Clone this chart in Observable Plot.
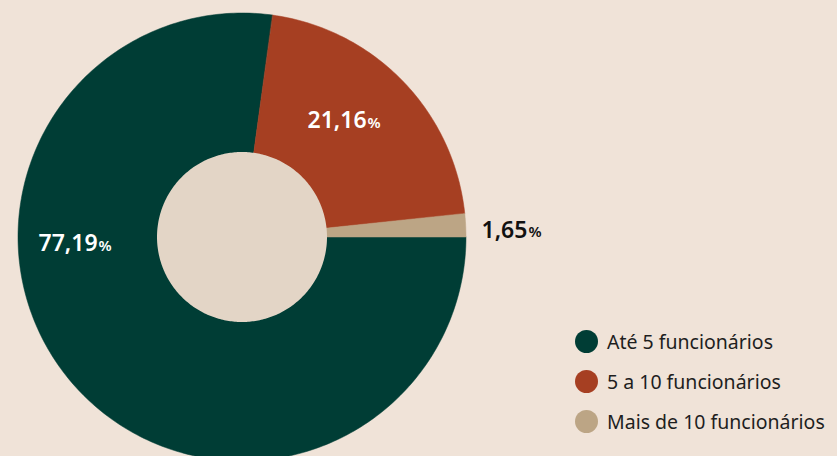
<!DOCTYPE html>
<html>
<head>
<meta charset="utf-8">
<script src="https://cdn.jsdelivr.net/npm/d3@7"></script>
<script src="https://cdn.jsdelivr.net/npm/@observablehq/plot@0.6"></script>
<style>
  html, body { margin: 0; padding: 0; background: #f0e3d8; }
  #wrap { position: relative; width: 837px; height: 456px; overflow: hidden; }
  #legend { position: absolute; left: 575px; top: 321px; font-family: "Noto Sans", sans-serif; font-size: 19.5px; color: #1e1e1e; }
  .item { display: flex; align-items: center; height: 40px; }
  .sw { width: 23px; height: 23px; border-radius: 50%; margin-right: 9px; flex: none; }
</style>
</head>
<body>
<div id="wrap"></div>
<script>
// ---- data ----
const categories = ["Até 5 funcionários", "5 a 10 funcionários", "Mais de 10 funcionários"];
const values = [77.19, 21.16, 1.65];
const valueLabels = ["77,19", "21,16", "1,65"];

// ---- style ----
const colors = ["#003d35", "#a63f22", "#bca585"];
const labelColors = ["#ffffff", "#ffffff", "#111111"];
const holeColor = "#e3d5c6";
const holeRatio = 85 / 224;
// label anchor points (end of number) in unit-circle coordinates
const labelPos = [[-0.647, -0.029], [0.554, 0.520], [1.272, 0.031]];

// build slice polygons (angle from east, clockwise)
const total = d3.sum(values);
const slices = [];
let acc = 0;
values.forEach((v, i) => {
  const a0 = -acc / total * 2 * Math.PI;
  const a1 = -(acc + v) / total * 2 * Math.PI;
  const n = Math.max(4, Math.ceil(Math.abs(a1 - a0) / (2 * Math.PI) * 360));
  for (let k = 0; k <= n; k++) {
    const t = a0 + (a1 - a0) * k / n;
    slices.push({cat: categories[i], xo: Math.cos(t), yo: Math.sin(t), xi: 0, yi: 0});
  }
  acc += v;
});
const hole = d3.range(0, 361).map(k => {
  const t = k / 360 * 2 * Math.PI;
  return {xo: holeRatio * Math.cos(t), yo: holeRatio * Math.sin(t), xi: 0, yi: 0};
});
const labelData = categories.map((c, i) => ({cat: c, label: valueLabels[i], x: labelPos[i][0], y: labelPos[i][1], color: labelColors[i]}));

const plot = Plot.plot({
  width: 837,
  height: 456,
  margin: 0,
  style: {background: "transparent"},
  x: {type: "linear", domain: [-1, 1], range: [18, 466], axis: null},
  y: {type: "linear", domain: [-1, 1], range: [461, 13], axis: null},
  color: {type: "ordinal", domain: categories, range: colors},
  marks: [
    Plot.area(slices, {x1: "xo", y1: "yo", x2: "xi", y2: "yi", z: "cat", fill: "cat", stroke: "cat", strokeWidth: 0.5}),
    Plot.area(hole, {x1: "xo", y1: "yo", x2: "xi", y2: "yi", fill: holeColor}),
    Plot.text(labelData, {x: "x", y: "y", text: "label", fill: "color", textAnchor: "end", fontSize: 23, fontWeight: 600, fontFamily: "Noto Sans"}),
    Plot.text(labelData, {x: "x", y: "y", text: () => "%", fill: "color", textAnchor: "start", dx: 1, dy: 2, fontSize: 15, fontWeight: 600, fontFamily: "Noto Sans"})
  ]
});
const wrap = document.getElementById("wrap");
wrap.appendChild(plot);

const legend = document.createElement("div");
legend.id = "legend";
categories.forEach((c, i) => {
  const item = document.createElement("div");
  item.className = "item";
  const sw = document.createElement("span");
  sw.className = "sw";
  sw.style.background = colors[i];
  const tx = document.createElement("span");
  tx.textContent = c;
  item.appendChild(sw);
  item.appendChild(tx);
  legend.appendChild(item);
});
wrap.appendChild(legend);
</script>
</body>
</html>
